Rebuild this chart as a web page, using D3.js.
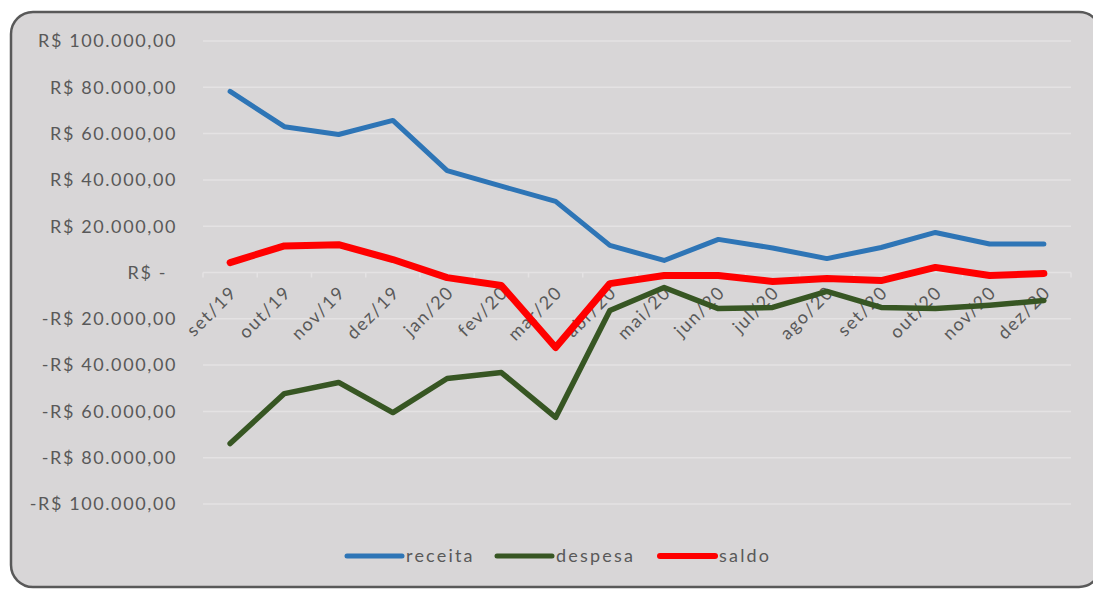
<!DOCTYPE html>
<html>
<head>
<meta charset="utf-8">
<script src="https://cdn.jsdelivr.net/npm/d3@7"></script>
<style>
  body { margin: 0; background: #fff; }
  svg { display: block; font-family: Lato, 'Open Sans', sans-serif; }
</style>
</head>
<body>
<div id="chart"></div>
<script>
// data
var months = ['set/19', 'out/19', 'nov/19', 'dez/19', 'jan/20', 'fev/20', 'mar/20', 'abr/20',
  'mai/20', 'jun/20', 'jul/20', 'ago/20', 'set/20', 'out/20', 'nov/20', 'dez/20']
var receita = [78200, 63000, 59600, 65700, 44000, 37300, 30700, 11700, 5200, 14300, 10600, 6000, 10800, 17300, 12300, 12300]
var despesa = [-73900, -52300, -47500, -60500, -45800, -43200, -62600, -16400, -6500, -15600, -15100, -8200, -15100, -15600, -14100, -12100]
var saldo = [4300, 11500, 12000, 5600, -2200, -5600, -32400, -4800, -1300, -1300, -3900, -2600, -3500, 2200, -1300, -400]
var yTicks = [100000, 80000, 60000, 40000, 20000, 0, -20000, -40000, -60000, -80000, -100000]

var series = [
  { name: 'receita', values: receita, color: '#2e75b6', width: 5 },
  { name: 'despesa', values: despesa, color: '#375623', width: 5.5 },
  { name: 'saldo', values: saldo, color: '#ff0000', width: 7 }
]

var W = 1093, H = 589
var margin = { top: 41, left: 203, right: 22, bottom: 85 }
var width = W - margin.left - margin.right
var height = H - margin.top - margin.bottom

var svg = d3.select('#chart').append('svg')
  .attr('width', W)
  .attr('height', H)

// chart area with rounded border
svg.append('rect')
  .attr('x', 11).attr('y', 12)
  .attr('width', 1090).attr('height', 575)
  .attr('rx', 22)
  .attr('fill', '#d8d6d7')
  .attr('stroke', '#595959')
  .attr('stroke-width', 2.5)

var g = svg.append('g')
  .attr('transform', 'translate(' + margin.left + ',' + margin.top + ')')

var x = d3.scaleBand().domain(months).range([0, width])
var y = d3.scaleLinear().domain([-100000, 100000]).range([height, 0])

function fmt(v) {
  if (v === 0) return 'R$ -'
  var s = d3.format(',.2f')(Math.abs(v)).replace(/,/g, 'x').replace('.', ',').replace(/x/g, '.')
  return (v < 0 ? '-' : '') + 'R$ ' + s
}

// gridlines
g.selectAll('.grid')
  .data(yTicks)
  .enter()
  .append('line')
  .attr('x1', 0).attr('x2', width)
  .attr('y1', d => y(d)).attr('y2', d => y(d))
  .attr('stroke', '#e4e2e3')
  .attr('stroke-width', 1.5)

// y labels
g.selectAll('.ylab')
  .data(yTicks)
  .enter()
  .append('text')
  .text(fmt)
  .attr('x', d => d === 0 ? -36 : -26)
  .attr('y', d => y(d))
  .attr('dy', '0.35em')
  .attr('text-anchor', 'end')
  .attr('font-size', 18)
  .attr('letter-spacing', 1.6)
  .attr('fill', '#595959')

// tick marks on the zero line
g.selectAll('.tick')
  .data(d3.range(months.length + 1))
  .enter()
  .append('line')
  .attr('x1', i => i * x.step()).attr('x2', i => i * x.step())
  .attr('y1', y(0)).attr('y2', y(0) + 5)
  .attr('stroke', '#e4e2e3')
  .attr('stroke-width', 1.5)

// x labels, rotated
g.selectAll('.xlab')
  .data(months)
  .enter()
  .append('text')
  .text(d => d)
  .attr('text-anchor', 'end')
  .attr('font-size', 18)
  .attr('letter-spacing', 1.6)
  .attr('fill', '#595959')
  .attr('transform', d => 'translate(' + (x(d) + x.bandwidth() / 2 + 8) + ',' + (y(0) + 21) + ') rotate(-45)')

var line = d3.line()
  .x((d, i) => x(months[i]) + x.bandwidth() / 2)
  .y(d => y(d))

series.forEach(function(s) {
  g.append('path')
    .datum(s.values)
    .attr('d', line)
    .attr('fill', 'none')
    .attr('stroke', s.color)
    .attr('stroke-width', s.width)
    .attr('stroke-linecap', 'round')
    .attr('stroke-linejoin', 'round')
})

// legend
var legendX = [347, 497, 660]
var legend = svg.selectAll('.legend')
  .data(series)
  .enter()
  .append('g')
  .attr('transform', (d, i) => 'translate(' + legendX[i] + ',556)')

legend.append('line')
  .attr('x1', 0).attr('x2', 55)
  .attr('stroke', d => d.color)
  .attr('stroke-width', d => d.name === 'saldo' ? 6 : 5)
  .attr('stroke-linecap', 'round')

legend.append('text')
  .text(d => d.name)
  .attr('x', 59)
  .attr('dy', '0.35em')
  .attr('font-size', 18)
  .attr('letter-spacing', 2.2)
  .attr('fill', '#595959')
</script>
</body>
</html>
